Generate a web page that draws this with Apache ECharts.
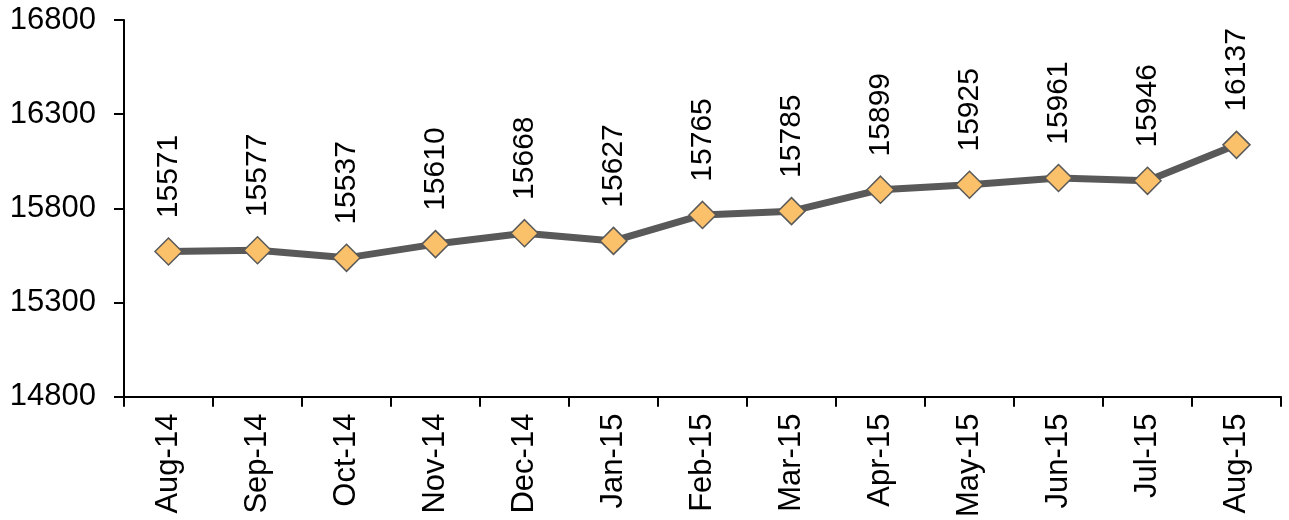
<!DOCTYPE html>
<html>
<head>
<meta charset="utf-8">
<script src="https://cdn.jsdelivr.net/npm/echarts@6/dist/echarts.min.js"></script>
<style>
html,body{margin:0;padding:0;background:#fff;}
#chart{width:1289px;height:520px;}
</style>
</head>
<body>
<div id="chart"></div>
<script>
const categories = ['Aug-14','Sep-14','Oct-14','Nov-14','Dec-14','Jan-15','Feb-15','Mar-15','Apr-15','May-15','Jun-15','Jul-15','Aug-15'];
const values = [15571,15577,15537,15610,15668,15627,15765,15785,15899,15925,15961,15946,16137];
const yMin = 14800, yMax = 16800, yStep = 500;

const chart = echarts.init(document.getElementById('chart'), null, {renderer:'canvas'});
const font = 'Liberation Sans, Arial, sans-serif';
chart.setOption({
  animation: false,
  backgroundColor: '#ffffff',
  grid: {left: 124, right: 8, top: 20, bottom: 123, containLabel: false},
  xAxis: {
    type: 'category',
    data: categories,
    boundaryGap: true,
    axisLine: {lineStyle: {color: '#000', width: 2}},
    axisTick: {show: true, length: 10, lineStyle: {color: '#000', width: 2}, alignWithLabel: false},
    axisLabel: {rotate: 90, margin: 17, color: '#000', fontSize: 31, fontFamily: font, interval: 0},
    splitLine: {show: false}
  },
  yAxis: {
    type: 'value',
    min: yMin, max: yMax, interval: yStep,
    axisLine: {show: true, lineStyle: {color: '#000', width: 2}},
    axisTick: {show: true, length: 10, lineStyle: {color: '#000', width: 2}},
    axisLabel: {margin: 28, color: '#000', fontSize: 31, fontFamily: font, formatter: v => String(v)},
    splitLine: {show: false}
  },
  series: [{
    type: 'line',
    data: values,
    symbol: 'diamond',
    symbolSize: [27, 27],
    lineStyle: {color: '#595959', width: 7},
    itemStyle: {color: '#FAC06A', borderColor: '#595959', borderWidth: 1.5},
    label: {
      show: true,
      position: 'top',
      distance: 19,
      rotate: 90,
      align: 'left',
      verticalAlign: 'middle',
      color: '#000',
      fontSize: 30,
      fontFamily: font
    }
  }]
});
</script>
</body>
</html>
